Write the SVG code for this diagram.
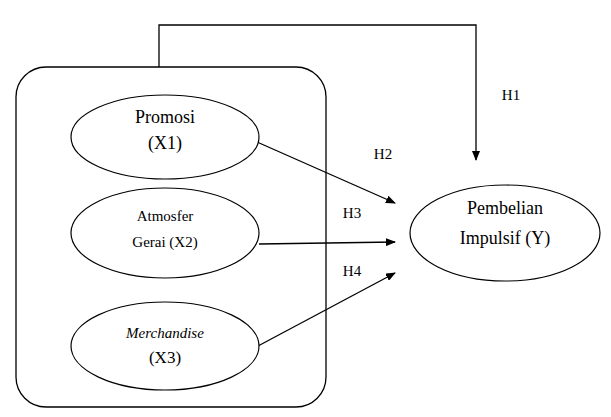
<svg xmlns="http://www.w3.org/2000/svg" width="611" height="417" viewBox="0 0 611 417">
<style>
.s{fill:none;stroke:#000;stroke-width:1.3}
.e{fill:#fff;stroke:#000;stroke-width:1.2}
text{font-family:"Liberation Serif","Times New Roman","DejaVu Serif",serif;fill:#000;text-anchor:middle}
</style>
<defs>
<marker id="a" markerWidth="10" markerHeight="8" refX="9" refY="4" orient="auto" markerUnits="userSpaceOnUse">
<path d="M0,0 L10,4 L0,8 z" fill="#000"/>
</marker>
</defs>
<rect width="611" height="417" fill="#fff"/>
<g id="group"><rect x="16" y="67" width="310" height="340" rx="30" class="s"/></g>
<g id="connectors">
<path d="M159,67 V25 H476 V160" class="s" marker-end="url(#a)"/>
<line x1="257" y1="142" x2="395" y2="203" class="s" marker-end="url(#a)"/>
<line x1="259" y1="244" x2="395" y2="242" class="s" marker-end="url(#a)"/>
<line x1="258" y1="346" x2="395" y2="273" class="s" marker-end="url(#a)"/>
<text x="511" y="100" font-size="15">H1</text>
<text x="383" y="159" font-size="15">H2</text>
<text x="352" y="218" font-size="15">H3</text>
<text x="352" y="276" font-size="15">H4</text>
</g>
<g id="x1"><ellipse cx="165" cy="137" rx="94" ry="42" class="e"/>
<text x="165" y="123" font-size="18">Promosi</text>
<text x="165" y="149" font-size="18">(X1)</text></g>
<g id="x2"><ellipse cx="165" cy="233" rx="94" ry="45" class="e"/>
<text x="165" y="221" font-size="15">Atmosfer</text>
<text x="165" y="247" font-size="15">Gerai (X2)</text></g>
<g id="x3"><ellipse cx="165" cy="346" rx="94" ry="44" class="e"/>
<text x="165" y="338" font-size="15" font-style="italic">Merchandise</text>
<text x="165" y="363" font-size="17">(X3)</text></g>
<g id="y"><ellipse cx="505" cy="233" rx="95" ry="48" class="e"/>
<text x="505" y="214" font-size="18">Pembelian</text>
<text x="505" y="244" font-size="18">Impulsif (Y)</text></g>
</svg>
